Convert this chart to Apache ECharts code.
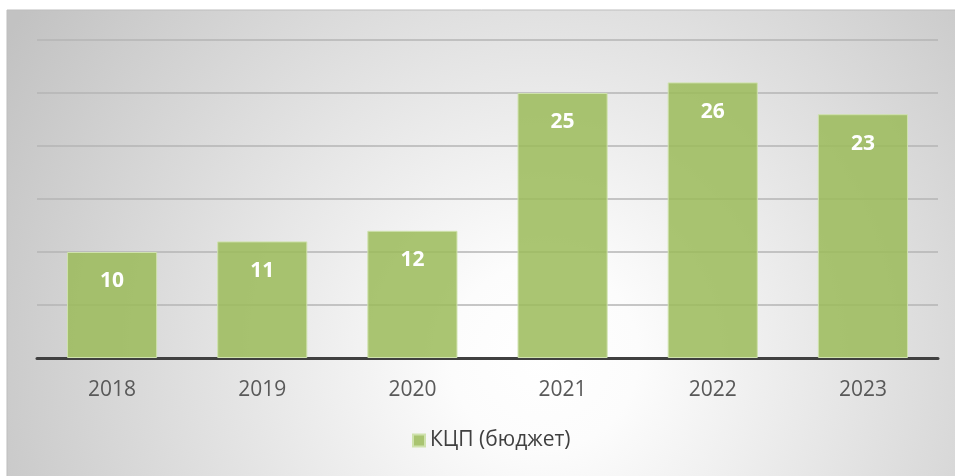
<!DOCTYPE html>
<html>
<head>
<meta charset="utf-8">
<script src="https://cdn.jsdelivr.net/npm/echarts@6/dist/echarts.min.js"></script>
<style>
  html, body { margin: 0; padding: 0; background: #fff; }
  #chart { width: 955px; height: 476px; }
</style>
</head>
<body>
<div id="chart"></div>
<script>
const years = ['2018', '2019', '2020', '2021', '2022', '2023'];
const budget = [10, 11, 12, 25, 26, 23];
const seriesName = 'КЦП (бюджет)';

const chart = echarts.init(document.getElementById('chart'));
const font = '"Open Sans", "Noto Sans", sans-serif';

const option = {
  animation: false,
  backgroundColor: '#ffffff',
  graphic: [{
    type: 'rect',
    z: -10,
    shape: { x: 7, y: 10, width: 960, height: 480 },
    style: {
      fill: {
        type: 'radial', x: 0.56, y: 0.72, r: 1.3,
        colorStops: [
          { offset: 0, color: '#ffffff' },
          { offset: 0.15, color: '#fcfcfc' },
          { offset: 1, color: '#c2c2c2' }
        ]
      },
      stroke: '#bdbdbd',
      lineWidth: 1
    }
  }],
  legend: {
    data: [seriesName],
    bottom: 20,
    left: 407,
    itemWidth: 12,
    itemHeight: 12,
    itemGap: 6,
    icon: 'rect',
    textStyle: { color: '#404040', fontSize: 21, fontFamily: font }
  },
  grid: { left: 37, right: 17, top: 40, bottom: 118 },
  xAxis: {
    type: 'category',
    data: years,
    axisLine: { lineStyle: { color: '#404040', width: 3 } },
    axisTick: { show: false },
    axisLabel: { color: '#595959', fontSize: 21, margin: 22, fontFamily: font }
  },
  yAxis: {
    type: 'value',
    min: 0,
    max: 30,
    interval: 5,
    axisLabel: { show: false },
    axisLine: { show: false },
    axisTick: { show: false },
    splitLine: { lineStyle: { color: '#b4b4b4', width: 1.5 } }
  },
  series: [{
    name: seriesName,
    type: 'bar',
    data: budget,
    barWidth: '60%',
    itemStyle: {
      color: 'rgba(155,187,89,0.85)',
      borderColor: '#cfe2ad',
      borderWidth: 1
    },
    label: {
      show: true,
      position: 'insideTop',
      distance: 19,
      color: '#ffffff',
      fontSize: 21,
      fontWeight: 'bold',
      fontFamily: font
    }
  }]
};

chart.setOption(option);
</script>
</body>
</html>
